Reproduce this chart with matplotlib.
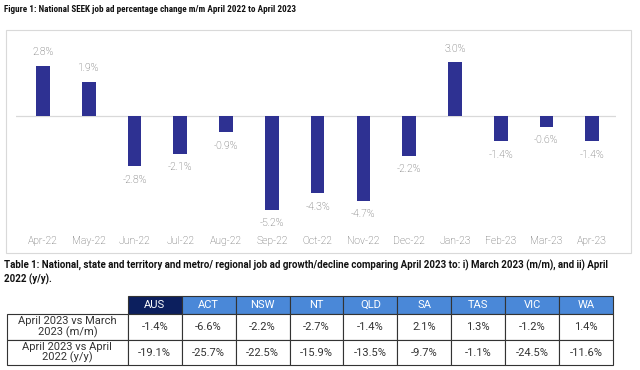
import matplotlib
matplotlib.use("Agg")
import matplotlib.pyplot as plt
from matplotlib.patches import Rectangle

months = ["Apr-22", "May-22", "Jun-22", "Jul-22", "Aug-22", "Sep-22", "Oct-22",
          "Nov-22", "Dec-22", "Jan-23", "Feb-23", "Mar-23", "Apr-23"]
mm_change = [2.8, 1.9, -2.8, -2.1, -0.9, -5.2, -4.3, -4.7, -2.2, 3.0, -1.4, -0.6, -1.4]

regions = ["AUS", "ACT", "NSW", "NT", "QLD", "SA", "TAS", "VIC", "WA"]
row_labels = ["April 2023 vs March\n2023 (m/m)", "April 2023 vs April\n2022 (y/y)"]
vs_march = [-1.4, -6.6, -2.2, -2.7, -1.4, 2.1, 1.3, -1.2, 1.4]
vs_april = [-19.1, -25.7, -22.5, -15.9, -13.5, -9.7, -1.1, -24.5, -11.6]

W, H = 640, 370
BAR = "#2E3192"
LABEL = "#595959"
COND_FONT = ["Roboto Condensed", "Noto Sans Condensed", "DejaVu Sans Condensed",
             "Liberation Sans Narrow", "Roboto", "DejaVu Sans"]
BODY_FONT = ["Roboto", "DejaVu Sans"]

fig = plt.figure(figsize=(W / 100, H / 100), dpi=100)

# titles
fig.text(4 / W, 1 - 10 / H, "Figure 1: National SEEK job ad percentage change m/m April 2022 to April 2023",
         fontsize=6.6, fontweight="bold", fontstretch="condensed", family=COND_FONT,
         va="center", ha="left", color="#111111")
fig.text(4 / W, 1 - 272 / H,
         "Table 1: National, state and territory and metro/ regional job ad growth/decline comparing "
         "April 2023 to: i) March 2023 (m/m), and ii) April\n2022 (y/y).",
         fontsize=7.0, fontweight="bold", family=BODY_FONT,
         va="center", ha="left", color="#111111", linespacing=1.3)

# chart frame
fig.patches.append(Rectangle((6 / W, 1 - 253 / H), 625 / W, 223 / H, transform=fig.transFigure,
                             fill=False, edgecolor="#d9d9d9", linewidth=0.8))

# bar chart
zero_y, px_per = 116, 18.0
ax_top, ax_bot = 45, 226
ax = fig.add_axes([16 / W, 1 - ax_bot / H, 600 / W, (ax_bot - ax_top) / H])
x = list(range(len(months)))
bars = ax.bar(x, mm_change, width=0.3, color=BAR, zorder=3)
ax.axhline(0, color="#d9d9d9", linewidth=0.9, zorder=2)
ax.set_xlim(-0.59, 12.52)
ax.set_ylim(-(ax_bot - zero_y) / px_per, (zero_y - ax_top) / px_per)
ax.bar_label(bars, labels=[f"{v:.1f}%" for v in mm_change], padding=6,
             fontsize=7.5, color=LABEL, family=BODY_FONT, fontweight="light")
ax.set_xticks(x)
ax.set_xticklabels(months, fontsize=7.5, color=LABEL, family=BODY_FONT, fontweight="light")
ax.tick_params(axis="x", length=0, pad=7)
ax.set_yticks([])
for s in ax.spines.values():
    s.set_visible(False)

# table
tb_top, tb_bot = 296, 365
ax_t = fig.add_axes([7 / W, 1 - tb_bot / H, 606 / W, (tb_bot - tb_top) / H])
ax_t.axis("off")
cells = [[""] + regions,
         [row_labels[0]] + [f"{v:.1f}%" for v in vs_march],
         [row_labels[1]] + [f"{v:.1f}%" for v in vs_april]]
col_w = [121 / 607] + [54 / 607] * len(regions)
tbl = ax_t.table(cellText=cells, colWidths=col_w, bbox=[0, 0, 1, 1], cellLoc="center")
tbl.auto_set_font_size(False)
row_h = [18, 26, 25]
for (r, c), cell in tbl.get_celld().items():
    cell.set_height(row_h[r] / 69)
    cell.set_edgecolor("#333333")
    cell.set_linewidth(0.8)
    txt = cell.get_text()
    txt.set_fontsize(8)
    txt.set_family(BODY_FONT)
    txt.set_color("#333333")
    if r == 0:
        if c == 0:
            cell.set_edgecolor("white")
            cell.set_facecolor("white")
        else:
            cell.set_facecolor("#0C1F5E" if c == 1 else "#4A88D8")
            txt.set_color("white")
    elif c == 0:
        txt.set_linespacing(1.0)

fig.savefig("out.png", dpi=100)
